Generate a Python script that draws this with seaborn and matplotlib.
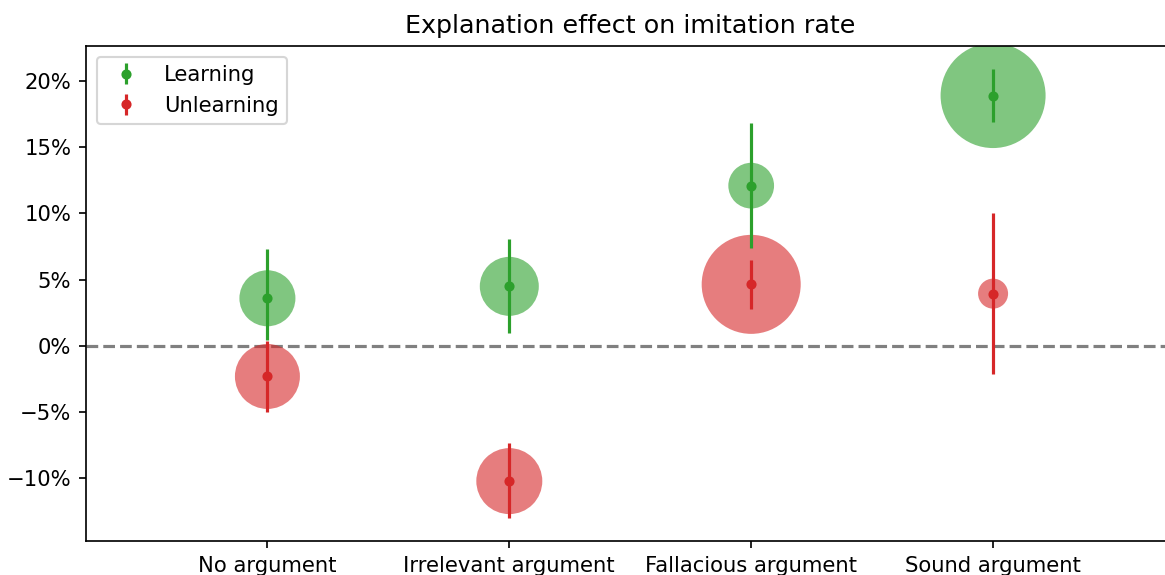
import numpy as np
import matplotlib
matplotlib.use("Agg")
import matplotlib.pyplot as plt
from matplotlib.ticker import PercentFormatter
import seaborn as sns

# categories et valeurs (en %)
categories = ["No argument", "Irrelevant argument", "Fallacious argument", "Sound argument"]

learning_mean = [3.6, 4.5, 12.1, 18.9]
learning_low = [0.45, 1.0, 7.4, 16.9]
learning_high = [7.3, 8.1, 16.8, 20.9]
learning_n = [704, 781, 469, 2474]

unlearning_mean = [-2.3, -10.2, 4.65, 3.95]
unlearning_low = [-5.0, -13.0, 2.8, -2.1]
unlearning_high = [0.4, -7.35, 6.5, 10.0]
unlearning_n = [948, 977, 2200, 202]

series = [
    ("Learning", "tab:green", learning_mean, learning_low, learning_high, learning_n),
    ("Unlearning", "tab:red", unlearning_mean, unlearning_low, unlearning_high, unlearning_n),
]

DPI = 152
fig = plt.figure(figsize=(1165 / DPI, 575 / DPI), dpi=DPI)
ax = fig.add_axes([86 / 1165, 34 / 575, 1088.5 / 1165, 495 / 575])

xpos = np.arange(len(categories))

# bulles (taille ~ effectif)
for label, color, mean, low, high, n in series:
    sns.scatterplot(x=xpos, y=mean, s=n, color=color, alpha=0.6,
                    edgecolor="none", legend=False, ax=ax, zorder=1)

# moyennes et intervalles
handles = []
for label, color, mean, low, high, n in series:
    mean = np.array(mean)
    yerr = np.vstack([mean - np.array(low), np.array(high) - mean])
    h = ax.errorbar(xpos, mean, yerr=yerr, fmt="o", color=color, ms=3.8,
                    lw=1.5, label=label, zorder=3)
    handles.append(h)

ax.axhline(0, color="gray", ls="--", lw=1.5, zorder=0)

ax.set_xticks(xpos)
ax.set_xticklabels(categories)
ax.set_xlim(-0.75, 3.75)
ax.set_ylim(-14.72, 22.64)
ax.set_yticks([-10, -5, 0, 5, 10, 15, 20])
ax.yaxis.set_major_formatter(PercentFormatter(100, decimals=0))
ax.set_title("Explanation effect on imitation rate")
ax.legend(handles=handles, labels=["Learning", "Unlearning"], loc="upper left")

fig.savefig("out.png", dpi=DPI)
